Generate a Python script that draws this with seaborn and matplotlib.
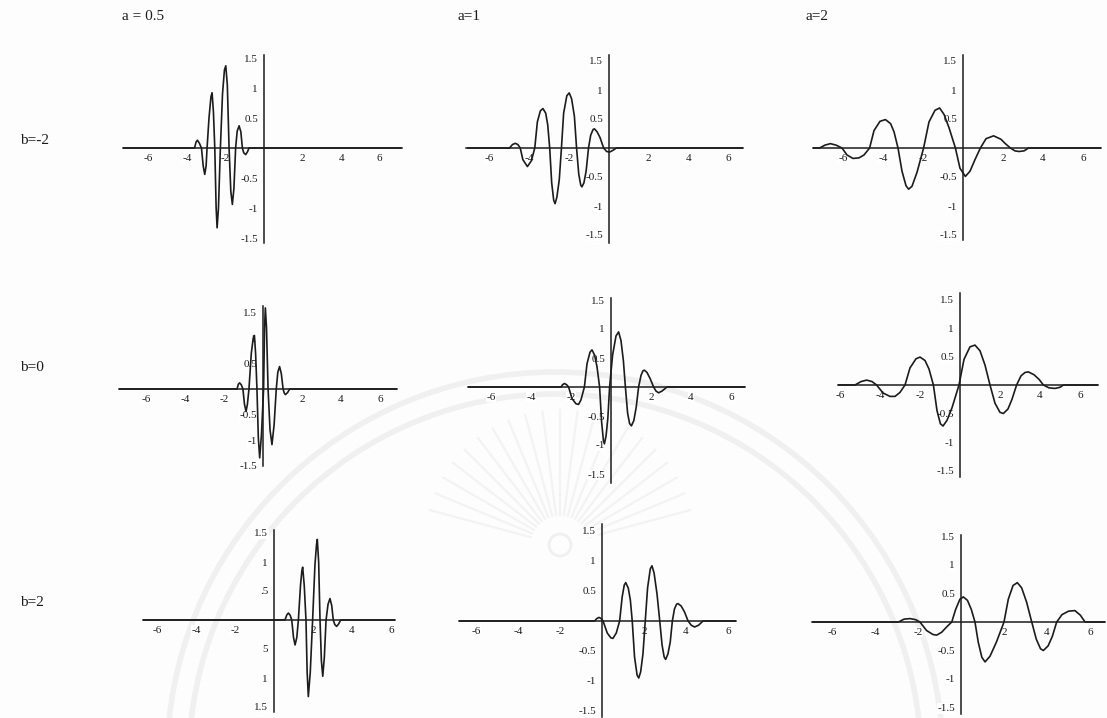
import numpy as np
import matplotlib
matplotlib.use("Agg")
import matplotlib.pyplot as plt
import seaborn as sns
from matplotlib.patches import Circle

sns.set_style("white")
plt.rcParams['font.family'] = ['Liberation Serif', 'DejaVu Serif']

# ---------------- labels ----------------
scale_labels = ["a = 0.5", "a=1", "a=2"]
shift_labels = ["b=-2", "b=0", "b=2"]
x_ticks = [-6, -4, -2, 2, 4, 6]
x_tick_text = ["-6", "-4", "-2", "2", "4", "6"]
y_ticks = [-1.5, -1, -0.5, 0.5, 1, 1.5]
y_tick_text = ["-1.5", "-1", "-0.5", "0.5", "1", "1.5"]
y_tick_text_cut = ["1.5", "1", "5", ".5", "1", "1.5"]

# ---------------- wavelet samples (x, psi) ----------------
# b = -2
x_a05_bm2 = [-7.3, -3.6, -3.52, -3.45, -3.35, -3.24, -3.15, -3.07, -3.0, -2.95,
             -2.85, -2.75, -2.69, -2.62, -2.55, -2.48, -2.43, -2.36, -2.26,
             -2.15, -2.05, -1.98, -1.9, -1.81, -1.72, -1.64, -1.56, -1.47,
             -1.39, -1.29, -1.2, -1.12, -1.05, -0.95, -0.85, -0.78, 7.1]
y_a05_bm2 = [0, 0, 0.1, 0.13, 0.08, 0, -0.3, -0.44, -0.3, 0,
             0.5, 0.85, 0.92, 0.6, 0, -1.0, -1.33, -1.0, 0,
             0.9, 1.3, 1.37, 1.05, 0, -0.72, -0.94, -0.68, 0,
             0.28, 0.37, 0.27, 0, -0.08, -0.11, -0.06, 0, 0]

x_a1_bm2 = [-7.1, -5.0, -4.85, -4.71, -4.58, -4.46, -4.33, -4.1, -3.9, -3.73,
            -3.6, -3.45, -3.32, -3.18, -3.08, -2.98, -2.88, -2.78, -2.71, -2.62,
            -2.5, -2.39, -2.28, -2.12, -2.0, -1.88, -1.74, -1.63, -1.52, -1.42,
            -1.36, -1.26, -1.15, -1.03, -0.92, -0.8, -0.73, -0.6, -0.45, -0.27,
            -0.12, 0.03, 0.2, 0.37, 6.7]
y_a1_bm2 = [0, 0, 0.06, 0.08, 0.06, 0, -0.2, -0.32, -0.22, 0,
            0.45, 0.64, 0.68, 0.6, 0.4, 0, -0.6, -0.9, -0.96, -0.85,
            -0.55, 0, 0.6, 0.9, 0.95, 0.85, 0.55, 0, -0.45, -0.64,
            -0.67, -0.6, -0.4, 0, 0.22, 0.32, 0.33, 0.28, 0.18, 0,
            -0.06, -0.07, -0.04, 0, 0]

x_a2_bm2 = [-7.5, -7.17, -6.9, -6.63, -6.35, -6.05, -5.8, -5.5, -5.2, -4.95,
            -4.67, -4.45, -4.15, -3.88, -3.62, -3.45, -3.25, -3.05, -2.85, -2.72,
            -2.55, -2.3, -1.97, -1.7, -1.4, -1.17, -0.95, -0.7, -0.38, -0.15,
            0.12, 0.35, 0.6, 0.87, 1.15, 1.53, 1.9, 2.1, 2.37, 2.6,
            2.8, 3.05, 3.28, 6.9]
y_a2_bm2 = [0, 0, 0.05, 0.075, 0.05, 0, -0.12, -0.18, -0.17, -0.12,
            0, 0.3, 0.46, 0.49, 0.42, 0.28, 0, -0.4, -0.65, -0.71,
            -0.66, -0.42, 0, 0.45, 0.65, 0.69, 0.58, 0.35, 0, -0.35,
            -0.49, -0.4, -0.2, 0, 0.16, 0.21, 0.15, 0.08, 0, -0.05,
            -0.06, -0.05, 0, 0]

# b = 0
x_a05_b0 = [-7.4, -1.33, -1.27, -1.2, -1.11, -1.03, -0.95, -0.87, -0.8, -0.72,
            -0.6, -0.5, -0.44, -0.38, -0.31, -0.24, -0.17, -0.08, 0.03,
            0.08, 0.12, 0.18, 0.26, 0.36, 0.46, 0.57, 0.68,
            0.76, 0.85, 0.94, 1.03, 1.09, 1.15, 1.26, 1.37, 6.87]
y_a05_b0 = [0, 0, 0.09, 0.12, 0.08, 0, -0.3, -0.44, -0.3, 0,
            0.7, 1.0, 1.05, 0.7, 0, -0.95, -1.35, -0.9, 0,
            1.2, 1.59, 1.2, 0, -0.8, -1.09, -0.7, 0,
            0.33, 0.44, 0.3, 0, -0.08, -0.11, -0.07, 0, 0]

x_a1_b0 = [-7.15, -2.5, -2.42, -2.33, -2.22, -2.12, -1.95, -1.75, -1.62, -1.5,
           -1.33, -1.2, -1.05, -0.95, -0.82, -0.7, -0.57, -0.47, -0.38, -0.33,
           -0.25, -0.16, -0.07, 0.08, 0.25, 0.38, 0.5, 0.62, 0.72, 0.83,
           0.93, 1.02, 1.14, 1.26, 1.38, 1.5, 1.6, 1.67, 1.8, 1.95,
           2.13, 2.25, 2.38, 2.55, 2.8, 6.7]
y_a1_b0 = [0, 0, 0.04, 0.06, 0.04, 0, -0.2, -0.29, -0.3, -0.22,
           0, 0.4, 0.6, 0.64, 0.55, 0.35, 0, -0.6, -0.92, -0.98,
           -0.85, -0.55, 0, 0.55, 0.88, 0.95, 0.8, 0.45, 0, -0.45,
           -0.63, -0.67, -0.58, -0.35, 0, 0.2, 0.28, 0.29, 0.25, 0.15,
           0, -0.07, -0.1, -0.07, 0, 0]

x_a2_b0 = [-6.1, -5.25, -4.95, -4.67, -4.4, -4.17, -3.85, -3.5, -3.25, -3.0,
           -2.75, -2.5, -2.2, -2.0, -1.75, -1.55, -1.33, -1.15, -0.98, -0.85,
           -0.65, -0.4, -0.05, 0.2, 0.5, 0.75, 1.0, 1.25, 1.5, 1.75,
           2.0, 2.17, 2.4, 2.6, 2.83, 3.05, 3.25, 3.42, 3.7, 3.95,
           4.17, 4.45, 4.75, 5.0, 5.17, 6.92]
y_a2_b0 = [0, 0, 0.06, 0.086, 0.06, 0, -0.14, -0.2, -0.2, -0.13,
           0, 0.3, 0.46, 0.49, 0.43, 0.28, 0, -0.45, -0.68, -0.72,
           -0.62, -0.4, 0, 0.45, 0.67, 0.70, 0.6, 0.35, 0, -0.32,
           -0.48, -0.5, -0.42, -0.25, 0, 0.16, 0.22, 0.23, 0.18, 0.1,
           0, -0.05, -0.06, -0.04, 0, 0]

# b = 2
x_a05_b2 = [-6.7, 0.56, 0.66, 0.74, 0.83, 0.91, 1.0, 1.08, 1.17, 1.25,
            1.36, 1.43, 1.47, 1.55, 1.64, 1.7, 1.76, 1.86, 1.98,
            2.1, 2.18, 2.22, 2.29, 2.36, 2.43, 2.5, 2.58, 2.67,
            2.77, 2.87, 2.96, 3.04, 3.12, 3.21, 3.31, 3.42, 6.2]
y_a05_b2 = [0, 0, 0.09, 0.12, 0.08, 0, -0.3, -0.43, -0.3, 0,
            0.6, 0.85, 0.91, 0.6, 0, -0.9, -1.32, -0.9, 0,
            0.95, 1.3, 1.39, 1.0, 0, -0.7, -0.97, -0.65, 0,
            0.27, 0.37, 0.25, 0, -0.08, -0.11, -0.07, 0, 0]

x_a1_b2 = [-6.8, -0.35, -0.25, -0.14, -0.04, 0.05, 0.25, 0.42, 0.52, 0.68,
           0.84, 0.96, 1.06, 1.13, 1.25, 1.35, 1.44, 1.55, 1.67, 1.75,
           1.84, 1.95, 2.06, 2.17, 2.3, 2.38, 2.48, 2.62, 2.75, 2.86,
           2.96, 3.03, 3.14, 3.25, 3.35, 3.45, 3.55, 3.62, 3.77, 3.93,
           4.1, 4.25, 4.41, 4.6, 4.81, 6.4]
y_a1_b2 = [0, 0, 0.04, 0.06, 0.04, 0, -0.2, -0.28, -0.29, -0.2,
           0, 0.4, 0.6, 0.64, 0.55, 0.35, 0, -0.6, -0.9, -0.95,
           -0.85, -0.55, 0, 0.55, 0.87, 0.92, 0.8, 0.45, 0, -0.4,
           -0.6, -0.64, -0.55, -0.35, 0, 0.2, 0.28, 0.29, 0.25, 0.15,
           0, -0.07, -0.1, -0.07, 0, 0]

x_a2_b2 = [-6.9, -2.91, -2.65, -2.37, -2.1, -1.91, -1.6, -1.3, -1.13, -0.9,
           -0.65, -0.43, -0.25, -0.05, 0.11, 0.3, 0.48, 0.65, 0.8, 0.97,
           1.12, 1.35, 1.65, 2.0, 2.2, 2.42, 2.62, 2.82, 3.05, 3.29,
           3.5, 3.7, 3.83, 4.05, 4.25, 4.45, 4.7, 5.0, 5.3, 5.55,
           5.77, 6.7]
y_a2_b2 = [0, 0, 0.05, 0.06, 0.04, 0, -0.15, -0.22, -0.23, -0.18,
           -0.08, 0, 0.22, 0.4, 0.44, 0.38, 0.22, 0, -0.35, -0.62,
           -0.70, -0.6, -0.35, 0, 0.4, 0.64, 0.69, 0.6, 0.35, 0,
           -0.3, -0.47, -0.5, -0.42, -0.25, 0, 0.13, 0.19, 0.2, 0.12,
           0, 0]

curves = [
    [(x_a05_bm2, y_a05_bm2), (x_a1_bm2, y_a1_bm2), (x_a2_bm2, y_a2_bm2)],
    [(x_a05_b0, y_a05_b0), (x_a1_b0, y_a1_b0), (x_a2_b0, y_a2_b0)],
    [(x_a05_b2, y_a05_b2), (x_a1_b2, y_a1_b2), (x_a2_b2, y_a2_b2)],
]

# ---------------- layout (pixel frame of each panel) ----------------
W, H = 1107, 718
# origin x, origin y, px per x unit, px per y unit, xlim, ylim
frames = [
    [(264, 148, 19.3, 60, (-7.31, 7.15), (-1.58, 1.55)),
     (609, 148, 19.9, 58, (-7.19, 6.73), (-1.64, 1.60)),
     (963, 148, 20.0, 58, (-7.50, 6.90), (-1.59, 1.60))],
    [(263, 389, 19.5, 51, (-7.40, 6.87), (-1.50, 1.62)),
     (611, 387, 20.0, 58, (-7.15, 6.70), (-1.66, 1.53)),
     (960, 385, 20.0, 57, (-6.10, 6.92), (-1.61, 1.61))],
    [(274, 620, 19.5, 58, (-6.72, 6.20), (-1.58, 1.56)),
     (602, 621, 21.0, 60, (-6.82, 6.40), (-1.60, 1.61)),
     (961, 622, 21.5, 57, (-6.94, 6.70), (-1.61, 1.52))],
]

ink = "#1c1c1c"

fig = plt.figure(figsize=(W / 100, H / 100), dpi=100)
fig.patch.set_facecolor("#fdfdfd")

# faint seal in the background
bg = fig.add_axes([0, 0, 1, 1], zorder=-5)
bg.set_xlim(0, W)
bg.set_ylim(H, 0)
bg.axis("off")
for r in (388, 366):
    bg.add_patch(Circle((555, 760), r, fill=False, lw=4.0, ec="#f0f0f0"))
bg.add_patch(Circle((560, 545), 11, fill=False, lw=2.0, ec="#f0f0f0"))
for ang in np.arange(15, 166, 7.5):
    t = np.deg2rad(ang)
    bg.plot([560 + 30 * np.cos(t), 560 + 135 * np.cos(t)],
            [545 - 30 * np.sin(t), 545 - 135 * np.sin(t)],
            color="#f3f3f3", lw=1.6, solid_capstyle="round")


def panel_rect(x0, y0, sx, sy, xlim, ylim):
    left = x0 + xlim[0] * sx
    right = x0 + xlim[1] * sx
    top = y0 - ylim[1] * sy
    bottom = y0 - ylim[0] * sy
    return [left / W, 1 - bottom / H, (right - left) / W, (bottom - top) / H]


for i in range(3):
    for j in range(3):
        x0, y0, sx, sy, xlim, ylim = frames[i][j]
        ax = fig.add_axes(panel_rect(x0, y0, sx, sy, xlim, ylim))
        ax.patch.set_alpha(0)
        xs, ys = curves[i][j]
        sns.lineplot(x=xs, y=ys, ax=ax, sort=False, estimator=None,
                     color=ink, linewidth=1.2, legend=False)
        ax.set_xlim(*xlim)
        ax.set_ylim(*ylim)
        for side in ("top", "right"):
            ax.spines[side].set_visible(False)
        ax.spines["left"].set_position(("data", 0))
        ax.spines["bottom"].set_position(("data", 0))
        for side in ("left", "bottom"):
            ax.spines[side].set_color(ink)
            ax.spines[side].set_linewidth(1.1)
        ax.set_xticks(x_ticks)
        ax.set_xticklabels(x_tick_text)
        ax.set_yticks(y_ticks)
        ax.set_yticklabels(y_tick_text_cut if (i == 2 and j == 0) else y_tick_text)
        ax.tick_params(axis="both", labelsize=8, length=2.5, width=0.7,
                       direction="inout", pad=3, colors=ink)
        for lab in ax.get_xticklabels() + ax.get_yticklabels():
            lab.set_bbox(dict(facecolor="white", edgecolor="none", pad=0.4))
        ax.set_xlabel("")
        ax.set_ylabel("")

# column and row headings
for lab, xc in zip(scale_labels, [143, 469, 817]):
    fig.text(xc / W, 1 - 16 / H, lab, ha="center", va="center",
             fontsize=11, color=ink)
for lab, yc in zip(shift_labels, [140, 367, 602]):
    fig.text(20 / W, 1 - yc / H, lab, ha="left", va="center",
             fontsize=11, color=ink)

fig.savefig("out.png", dpi=100, facecolor=fig.get_facecolor())
